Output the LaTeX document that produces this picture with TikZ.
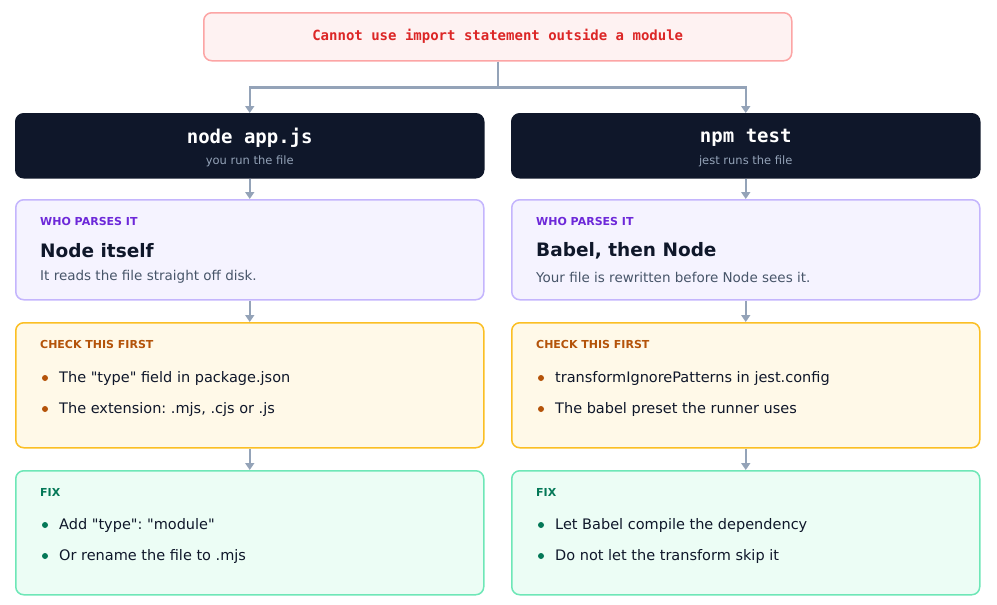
\documentclass[tikz,border=0pt]{standalone}
\usepackage{fontspec}
\setmainfont{DejaVu Sans}
\setmonofont{DejaVu Sans Mono}
\frenchspacing
\usetikzlibrary{arrows.meta,positioning}
\definecolor{errFill}{HTML}{FEF2F2}
\definecolor{errLine}{HTML}{FCA5A5}
\definecolor{errText}{HTML}{DC2626}
\definecolor{darkFill}{HTML}{0F172A}
\definecolor{subText}{HTML}{94A3B8}
\definecolor{wireColor}{HTML}{94A3B8}
\definecolor{parseFill}{HTML}{F5F3FF}
\definecolor{parseLine}{HTML}{C4B5FD}
\definecolor{parseText}{HTML}{6D28D9}
\definecolor{checkFill}{HTML}{FFF9E8}
\definecolor{checkLine}{HTML}{FBBF24}
\definecolor{checkText}{HTML}{B45309}
\definecolor{fixFill}{HTML}{ECFDF5}
\definecolor{fixLine}{HTML}{6EE7B7}
\definecolor{fixText}{HTML}{047857}
\definecolor{bodyText}{HTML}{0F172A}
\definecolor{grayText}{HTML}{475569}
\newcommand{\dq}{\textquotedbl}
\tikzset{
  box/.style={draw, line width=1.5pt, rounded corners=8pt, anchor=north west,
    minimum width=468pt, inner sep=0pt},
  wire/.style={wireColor, line width=2.2pt, -{Triangle[length=7pt,width=9pt]}},
  tag/.style={anchor=west, font=\fontsize{11}{13}\selectfont\bfseries, inner sep=0pt},
  item/.style={anchor=west, font=\fontsize{14.5}{16}\selectfont, text=bodyText, inner sep=0pt},
  dot/.style={circle, fill, inner sep=0pt, minimum size=6pt}
}
\begin{document}
\begin{tikzpicture}[x=1pt,y=-1pt]
  \useasboundingbox (0,0) rectangle (997,605);

  % error banner
  \node[box, fill=errFill, draw=errLine, minimum width=588pt, minimum height=48pt] (err) at (203,12) {};
  \node[text=errText, font=\ttfamily\bfseries\fontsize{14}{16}\selectfont] at (err.center) {Cannot use import statement outside a module};

  % left column
  \node[box, fill=darkFill, draw=darkFill, minimum height=64pt] (lrun) at (15,113) {};
  \node[box, fill=parseFill, draw=parseLine, minimum height=100pt] (lparse) at (15,199) {};
  \node[box, fill=checkFill, draw=checkLine, minimum height=125pt] (lcheck) at (15,322) {};
  \node[box, fill=fixFill, draw=fixLine, minimum height=124pt] (lfix) at (15,470) {};

  % right column
  \node[box, fill=darkFill, draw=darkFill, minimum height=64pt] (rrun) at (511,113) {};
  \node[box, fill=parseFill, draw=parseLine, minimum height=100pt] (rparse) at (511,199) {};
  \node[box, fill=checkFill, draw=checkLine, minimum height=125pt] (rcheck) at (511,322) {};
  \node[box, fill=fixFill, draw=fixLine, minimum height=124pt] (rfix) at (511,470) {};

  % run commands
  \node[text=white, font=\ttfamily\bfseries\fontsize{19}{21}\selectfont] at ([shift={(0,25)}]lrun.north) {node app.js};
  \node[text=subText, font=\fontsize{11.5}{13}\selectfont] at ([shift={(0,48)}]lrun.north) {you run the file};
  \node[text=white, font=\ttfamily\bfseries\fontsize{19}{21}\selectfont] at ([shift={(0,25)}]rrun.north) {npm test};
  \node[text=subText, font=\fontsize{11.5}{13}\selectfont] at ([shift={(0,48)}]rrun.north) {jest runs the file};

  % who parses it
  \foreach \col/\who/\how in {l/Node itself/It reads the file straight off disk.,
                              r/{Babel, then Node}/Your file is rewritten before Node sees it.} {
    \node[tag, text=parseText] at ([shift={(25,22)}]\col parse.north west) {WHO PARSES IT};
    \node[anchor=west, inner sep=0pt, text=bodyText, font=\bfseries\fontsize{18.5}{20}\selectfont]
      at ([shift={(25,52)}]\col parse.north west) {\who};
    \node[anchor=west, inner sep=0pt, text=grayText, font=\fontsize{13.5}{15}\selectfont]
      at ([shift={(25,78)}]\col parse.north west) {\how};
    \node[tag, text=checkText] at ([shift={(25,22)}]\col check.north west) {CHECK THIS FIRST};
    \node[tag, text=fixText] at ([shift={(25,22)}]\col fix.north west) {FIX};
  }

  % bullets
  \foreach \col/\a/\b in {l/The \dq type\dq{} field in package.json/{The extension: .mjs, .cjs or .js},
                          r/transformIgnorePatterns in jest.config/The babel preset the runner uses} {
    \node[dot, fill=checkText] at ([shift={(30,56)}]\col check.north west) {};
    \node[item] at ([shift={(44,56)}]\col check.north west) {\a};
    \node[dot, fill=checkText] at ([shift={(30,87)}]\col check.north west) {};
    \node[item] at ([shift={(44,87)}]\col check.north west) {\b};
  }
  \foreach \col/\a/\b in {l/Add \dq type\dq: \dq module\dq/Or rename the file to .mjs,
                          r/Let Babel compile the dependency/Do not let the transform skip it} {
    \node[dot, fill=fixText] at ([shift={(30,55)}]\col fix.north west) {};
    \node[item] at ([shift={(44,55)}]\col fix.north west) {\a};
    \node[dot, fill=fixText] at ([shift={(30,86)}]\col fix.north west) {};
    \node[item] at ([shift={(44,86)}]\col fix.north west) {\b};
  }

  % connectors
  \draw[wire] (err.south) -- ++(0,26) -| (lrun.north);
  \draw[wire] (err.south) -- ++(0,26) -| (rrun.north);
  \foreach \col in {l,r} {
    \draw[wire] (\col run.south) -- (\col parse.north);
    \draw[wire] (\col parse.south) -- (\col check.north);
    \draw[wire] (\col check.south) -- (\col fix.north);
  }
\end{tikzpicture}
\end{document}
